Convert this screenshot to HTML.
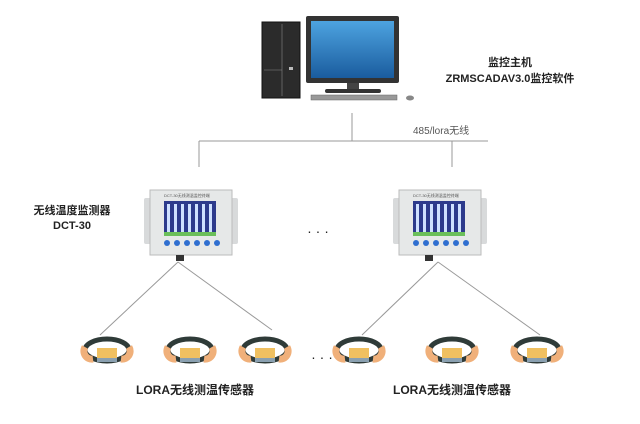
<!DOCTYPE html>
<html><head><meta charset="utf-8"><style>
body{margin:0;background:#fff}
svg{display:block}
text{font-family:"Liberation Sans","Noto Sans CJK SC",sans-serif}
</style></head><body>
<svg width="640" height="424" viewBox="0 0 640 424">
<defs>
<linearGradient id="scr" x1="0" y1="0" x2="0" y2="1"><stop offset="0" stop-color="#4da3e0"/><stop offset="1" stop-color="#1a5c9e"/></linearGradient>
<g id="dev">
 <rect x="-6" y="8" width="94" height="46" fill="#d8dadb" rx="2"/>
 <rect x="0" y="0" width="82" height="65" fill="#e6e8e8" stroke="#bbb"/>
 <text x="14" y="7" font-size="4" fill="#555">DCT-30无线测温监控终端</text>
 <rect x="14" y="11" width="52" height="35" fill="#2d3a8c"/>
 <g fill="#cfe0ff"><rect x="17" y="14" width="3" height="28"/><rect x="24" y="14" width="3" height="28"/><rect x="31" y="14" width="3" height="28"/><rect x="38" y="14" width="3" height="28"/><rect x="45" y="14" width="3" height="28"/><rect x="52" y="14" width="3" height="28"/><rect x="59" y="14" width="3" height="28"/></g>
 <rect x="14" y="42" width="52" height="4" fill="#6bbf5a"/>
 <g fill="#2f6fd0"><circle cx="17" cy="53" r="3"/><circle cx="27" cy="53" r="3"/><circle cx="37" cy="53" r="3"/><circle cx="47" cy="53" r="3"/><circle cx="57" cy="53" r="3"/><circle cx="67" cy="53" r="3"/></g>
 <rect x="26" y="65" width="8" height="6" fill="#333"/>
</g>
<g id="sen">
 <ellipse cx="0" cy="0" rx="22" ry="11" fill="none" stroke="#2f3b38" stroke-width="5"/>
 <path d="M-22,-3 a8,8 0 0,0 8,12" stroke="#f0b07a" stroke-width="7" fill="none"/>
 <path d="M22,-3 a8,8 0 0,1 -8,12" stroke="#f0b07a" stroke-width="7" fill="none"/>
 <rect x="-10" y="-2" width="20" height="14" fill="#f0c060"/>
 <rect x="-10" y="8" width="20" height="4" fill="#8aa0b0"/>
</g>
</defs>
<!-- computer -->
<rect x="262" y="22" width="38" height="76" fill="#2b2b2b" stroke="#111"/>
<line x1="282" y1="24" x2="282" y2="96" stroke="#888" stroke-width="0.6"/>
<line x1="264" y1="70" x2="282" y2="70" stroke="#888" stroke-width="0.6"/>
<rect x="289" y="67" width="4" height="3" fill="#bbb"/>
<rect x="306" y="16" width="93" height="67" fill="#333" rx="2"/>
<rect x="311" y="21" width="83" height="57" fill="url(#scr)"/>
<rect x="347" y="83" width="12" height="6" fill="#444"/>
<rect x="325" y="89" width="56" height="4" fill="#333" rx="2"/>
<rect x="311" y="95" width="86" height="5" fill="#999" stroke="#666" stroke-width="0.5"/>
<ellipse cx="410" cy="98" rx="4" ry="2.5" fill="#888"/>
<text x="510" y="66" font-size="11" font-weight="bold" text-anchor="middle" fill="#222">监控主机</text>
<text x="510" y="82" font-size="11" font-weight="bold" text-anchor="middle" fill="#222">ZRMSCADAV3.0监控软件</text>
<!-- lines -->
<g stroke="#999" stroke-width="1" fill="none">
<line x1="352" y1="113" x2="352" y2="141"/>
<line x1="199" y1="141" x2="488" y2="141"/>
<line x1="199" y1="141" x2="199" y2="167"/>
<line x1="452" y1="141" x2="452" y2="167"/>
<line x1="178" y1="262" x2="100" y2="335"/>
<line x1="178" y1="262" x2="272" y2="330"/>
<line x1="438" y1="262" x2="362" y2="335"/>
<line x1="438" y1="262" x2="540" y2="335"/>
</g>
<text x="413" y="134" font-size="10" fill="#555" font-family="Liberation Mono">485/lora无线</text>
<use href="#dev" x="150" y="190"/>
<use href="#dev" x="399" y="190"/>
<text x="72" y="214" font-size="11" font-weight="bold" text-anchor="middle" fill="#222">无线温度监测器</text>
<text x="72" y="229" font-size="11" font-weight="bold" text-anchor="middle" fill="#222">DCT-30</text>
<text x="318" y="236" font-size="14" text-anchor="middle" fill="#222">·  ·  ·</text>
<text x="322" y="362" font-size="14" text-anchor="middle" fill="#222">·  ·  ·</text>
<use href="#sen" x="107" y="350"/>
<use href="#sen" x="190" y="350"/>
<use href="#sen" x="265" y="350"/>
<use href="#sen" x="359" y="350"/>
<use href="#sen" x="452" y="350"/>
<use href="#sen" x="537" y="350"/>
<text x="195" y="394" font-size="12" font-weight="bold" text-anchor="middle" fill="#222">LORA无线测温传感器</text>
<text x="452" y="394" font-size="12" font-weight="bold" text-anchor="middle" fill="#222">LORA无线测温传感器</text>
</svg>
</body></html>
